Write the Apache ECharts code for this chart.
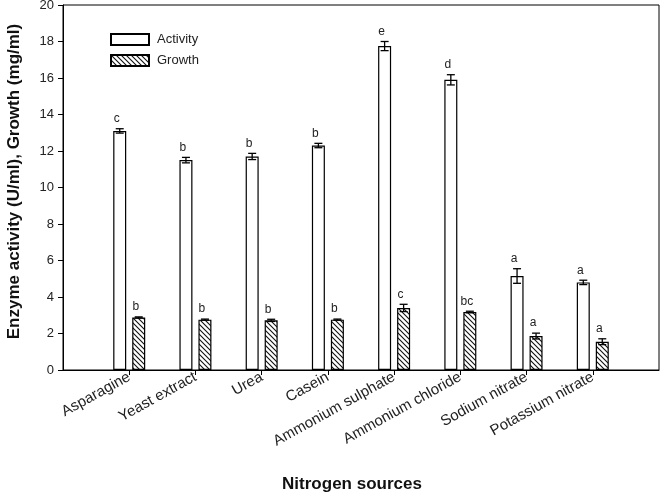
<!DOCTYPE html>
<html>
<head>
<meta charset="utf-8">
<script src="https://cdn.jsdelivr.net/npm/echarts@6/dist/echarts.min.js"></script>
<style>
html,body{margin:0;padding:0;background:#fff;}
#chart{width:662px;height:494px;}
</style>
</head>
<body>
<div id="chart"></div>
<script>
const categories = ['Asparagine','Yeast extract','Urea','Casein','Ammonium sulphate','Ammonium chloride','Sodium nitrate','Potassium nitrate'];
const activity = [13.1, 11.5, 11.7, 12.3, 17.75, 15.9, 5.15, 4.8];
const activityErr = [0.12, 0.15, 0.17, 0.12, 0.25, 0.28, 0.4, 0.12];
const growth = [2.88, 2.76, 2.72, 2.76, 3.4, 3.18, 1.86, 1.55];
const growthErr = [0.03, 0.03, 0.06, 0.03, 0.2, 0.04, 0.16, 0.16];
const activityLetters = ['c','b','b','b','e','d','a','a'];
const growthLetters = ['b','b','b','b','c','bc','a','a'];
const yTicks = [0, 2, 4, 6, 8, 10, 12, 14, 16, 18, 20];

const BAR_W = 13, GAP = 6;
const OFFSET = (BAR_W + GAP) / 2;

const axisCats = [''].concat(categories, ['']);
const pad = arr => ['-'].concat(arr, ['-']);

const hatch = document.createElement('canvas');
hatch.width = 5; hatch.height = 5;
(function(){
  const c = hatch.getContext('2d');
  c.fillStyle = '#fff'; c.fillRect(0,0,5,5);
  c.strokeStyle = '#111'; c.lineWidth = 1.1;
  c.beginPath();
  c.moveTo(-1,-1); c.lineTo(6,6);
  c.moveTo(-1,4); c.lineTo(1,6);
  c.moveTo(4,-1); c.lineTo(6,1);
  c.stroke();
})();

function errData(vals, errs) {
  return vals.map((v, i) => [i + 1, v, errs[i]]);
}

function errRender(dir, letters) {
  return function(params, api) {
    const idx = api.value(0), v = api.value(1), e = api.value(2);
    const letter = letters[params.dataIndex];
    const top = api.coord([idx, v + e]);
    const bot = api.coord([idx, v - e]);
    const x = top[0] + dir * OFFSET;
    const cap = 4;
    const ls = {stroke: '#000', lineWidth: 1.3};
    return {
      type: 'group',
      children: [
        {type: 'line', shape: {x1: x, y1: top[1], x2: x, y2: bot[1]}, style: ls},
        {type: 'line', shape: {x1: x - cap, y1: top[1], x2: x + cap, y2: top[1]}, style: ls},
        {type: 'line', shape: {x1: x - cap, y1: bot[1], x2: x + cap, y2: bot[1]}, style: ls},
        {type: 'text', x: x - 3, y: top[1] - 4, style: {text: letter, align: 'center', verticalAlign: 'bottom',
          fontSize: 12, fontFamily: '"Liberation Sans", Arial, sans-serif', fill: '#222'}}
      ]
    };
  };
}

const chart = echarts.init(document.getElementById('chart'), null, {renderer: 'canvas'});
chart.setOption({
  animation: false,
  backgroundColor: '#fff',
  textStyle: {fontFamily: '"Liberation Sans", Arial, sans-serif'},
  grid: {left: 63, right: 3, top: 5, bottom: 124, containLabel: false, outerBoundsMode: 'none',
    show: true, borderColor: '#000', borderWidth: 1, backgroundColor: 'transparent'},
  legend: {
    orient: 'vertical', left: 105, top: 28, itemWidth: 38, itemHeight: 11, itemGap: 8,
    textStyle: {fontSize: 13, color: '#222', padding: [0, 0, 0, 3]},
    data: [
      {name: 'Activity', icon: 'rect'},
      {name: 'Growth', icon: 'rect'}
    ]
  },
  xAxis: {
    type: 'category', data: axisCats, boundaryGap: false,
    axisLine: {lineStyle: {color: '#000', width: 1}},
    axisTick: {show: true, length: 5, inside: false, lineStyle: {color: '#000'},
      interval: (i, v) => v !== ''},
    axisLabel: {interval: 0, rotate: 29, fontSize: 15, color: '#222', margin: 6},
    name: 'Nitrogen sources', nameLocation: 'middle', nameGap: 106,
    nameTextStyle: {fontSize: 17, fontWeight: 'bold', color: '#111', padding: [0, 18, 0, 0]}
  },
  yAxis: {
    type: 'value', min: 0, max: 20, interval: 2,
    axisLine: {show: true, lineStyle: {color: '#000', width: 1}},
    axisTick: {show: true, length: 5, lineStyle: {color: '#000'}},
    splitLine: {show: false},
    axisLabel: {fontSize: 13, color: '#222', margin: 9,
      formatter: v => yTicks.indexOf(v) >= 0 ? String(v) : ''},
    name: 'Enzyme activity (U/ml), Growth (mg/ml)', nameLocation: 'middle', nameGap: 40,
    nameTextStyle: {fontSize: 17, fontWeight: 'bold', color: '#111', padding: [0, 0, 0, 12]}
  },
  series: [
    {name: 'Activity', type: 'bar', data: pad(activity), barWidth: BAR_W, barGap: (GAP / BAR_W * 100) + '%',
      itemStyle: {color: '#fff', borderColor: '#000', borderWidth: 1.2}},
    {name: 'Growth', type: 'bar', data: pad(growth), barWidth: BAR_W,
      itemStyle: {color: {image: hatch, repeat: 'repeat'}, borderColor: '#000', borderWidth: 1.2}},
    {type: 'custom', renderItem: errRender(-1, activityLetters), data: errData(activity, activityErr), z: 10, clip: false},
    {type: 'custom', renderItem: errRender(1, growthLetters), data: errData(growth, growthErr), z: 10, clip: false}
  ]
});
</script>
</body>
</html>
